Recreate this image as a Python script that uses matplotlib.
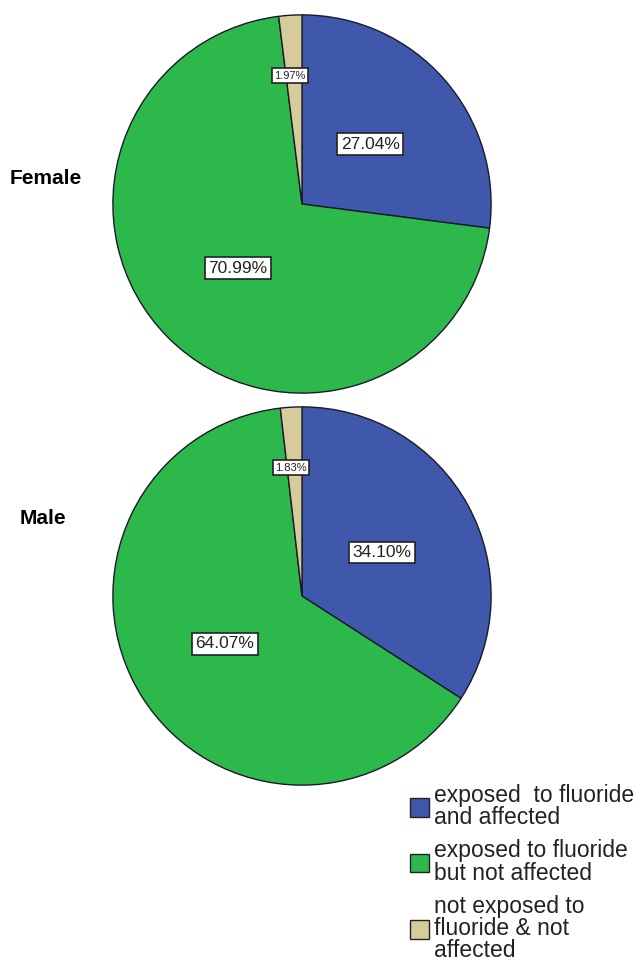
import numpy as np
import matplotlib
matplotlib.use("Agg")
from matplotlib import pyplot as plt
from matplotlib.patches import Patch

groups = ["Female", "Male"]
female = [27.04, 70.99, 1.97]
male = [34.10, 64.07, 1.83]
labels = ["exposed  to fluoride\nand affected",
          "exposed to fluoride\nbut not affected",
          "not exposed to\nfluoride & not\naffected"]
colors = ["#3f58ac", "#2db84b", "#d6cb9a"]

plt.rcParams['font.family'] = ['Liberation Sans', 'DejaVu Sans']

W, H = 644, 961
fig = plt.figure(figsize=(W / 100, H / 100), dpi=100)


def pie_axes(cx, cy, r):
    # pixel coords (from top-left) -> figure fraction
    return fig.add_axes([(cx - r) / W, 1 - (cy + r) / H, 2 * r / W, 2 * r / H])


def draw(ax, vals):
    ax.pie(vals, colors=colors, startangle=90, counterclock=False,
           wedgeprops=dict(edgecolor="#1a1a2a", linewidth=1.0))
    ax.set_xlim(-1.01, 1.01)
    ax.set_ylim(-1.01, 1.01)
    ax.set_aspect("equal")
    ax.axis("off")
    start = 90.0
    for i, v in enumerate(vals):
        mid = start - v * 3.6 / 2
        start -= v * 3.6
        small = v < 5
        d = 0.68 if small else 0.48
        x = d * np.cos(np.radians(mid))
        y = d * np.sin(np.radians(mid))
        if small:
            x -= 0.02
        ax.text(x, y, "%.2f%%" % v, ha="center", va="center",
                fontsize=8 if small else 12.5, color="#222222",
                bbox=dict(boxstyle="square,pad=0.2", fc="white",
                          ec="#222222", lw=1.2))


ax1 = pie_axes(302, 204, 191)
draw(ax1, female)
ax2 = pie_axes(302, 596, 191)
draw(ax2, male)

fig.text(10 / W, 1 - 178 / H, groups[0], fontsize=15, fontweight="bold",
         ha="left", va="center")
fig.text(20 / W, 1 - 519 / H, groups[1], fontsize=15, fontweight="bold",
         ha="left", va="center")

handles = [Patch(facecolor=c, edgecolor="#222222", lw=1.0) for c in colors]
fig.legend(handles, labels, loc="upper left",
           bbox_to_anchor=(410 / W, 1 - 784 / H), frameon=False,
           fontsize=16.5, handlelength=0.85, handleheight=0.85,
           handletextpad=0.2, labelspacing=0.45, borderaxespad=0,
           borderpad=0)
for t in fig.legends[0].get_texts():
    t.set_linespacing(0.95)
    t.set_color("#222222")

fig.savefig("out.png", dpi=100)
